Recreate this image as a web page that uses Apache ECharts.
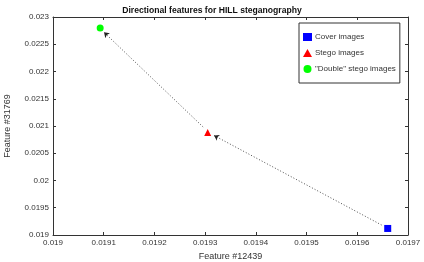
<!DOCTYPE html>
<html>
<head>
<meta charset="utf-8">
<script src="https://cdn.jsdelivr.net/npm/echarts@6/dist/echarts.min.js"></script>
<style>
  html, body { margin: 0; padding: 0; background: #fff; }
  #chart { width: 424px; height: 262px; }
</style>
</head>
<body>
<div id="chart"></div>
<script>
// points
var coverPoint = [0.01966, 0.01912]
var stegoPoint = [0.019305, 0.02088]
var doublePoint = [0.019093, 0.0228]
// dotted arrows: [from, to]
var arrowCover = [[0.019648, 0.019183], [0.0193175, 0.020826]]
var arrowStego = [[0.019296, 0.020982], [0.0191006, 0.022719]]

var xMin = 0.019, xMax = 0.0197, xStep = 0.0001
var yMin = 0.019, yMax = 0.023, yStep = 0.0005

var font = 'Liberation Sans'
var axisColor = '#333'

function fmt(v) {
  return String(parseFloat(v.toFixed(5)))
}

var echart = echarts.init(document.getElementById('chart'))

function xAx(pos, labels) {
  return {
    type: 'value', position: pos, min: xMin, max: xMax, interval: xStep,
    name: labels ? 'Feature #12439' : '',
    nameLocation: 'middle', nameGap: 16,
    nameTextStyle: { color: '#333', fontSize: 9, fontFamily: font },
    axisLine: { show: true, onZero: false, lineStyle: { color: axisColor, width: 1 } },
    axisTick: { show: true, inside: true, length: 3, lineStyle: { color: axisColor } },
    axisLabel: { show: labels, color: '#333', fontSize: 8, fontFamily: font, margin: 4, formatter: fmt },
    splitLine: { show: false }
  }
}
function yAx(pos, labels) {
  return {
    type: 'value', position: pos, min: yMin, max: yMax, interval: yStep,
    name: labels ? 'Feature #31769' : '',
    nameLocation: 'middle', nameGap: 41, nameRotate: 90,
    nameTextStyle: { color: '#333', fontSize: 9, fontFamily: font },
    axisLine: { show: true, onZero: false, lineStyle: { color: axisColor, width: 1 } },
    axisTick: { show: true, inside: true, length: 3, lineStyle: { color: axisColor } },
    axisLabel: { show: labels, color: '#333', fontSize: 8, fontFamily: font, margin: 4, formatter: fmt },
    splitLine: { show: false }
  }
}

var option = {
  animation: false,
  title: {
    text: 'Directional features for HILL steganography',
    left: 'center', top: 1,
    textStyle: { fontSize: 8.6, fontWeight: 'bold', color: '#111', fontFamily: font }
  },
  grid: { left: 53, right: 16, top: 17, bottom: 27, containLabel: false, outerBoundsMode: 'none' },
  legend: {
    orient: 'vertical',
    left: 299, top: 23,
    padding: [10, 4, 10, 4],
    itemGap: 8,
    itemWidth: 9, itemHeight: 8,
    borderColor: '#333', borderWidth: 1,
    backgroundColor: '#fff',
    textStyle: { fontSize: 8, color: '#333', fontFamily: font, padding: [0, 0, 0, -2] },
    data: [
      { name: 'Cover images', icon: 'rect' },
      { name: 'Stego images', icon: 'triangle' },
      { name: '"Double" stego images', icon: 'circle' }
    ]
  },
  xAxis: [xAx('bottom', true), xAx('top', false)],
  yAxis: [yAx('left', true), yAx('right', false)],
  series: [
    {
      type: 'lines', coordinateSystem: 'cartesian2d', silent: true,
      symbol: ['none', 'arrow'], symbolSize: 5,
      lineStyle: { color: '#222', width: 0.8, type: [1, 2], opacity: 1 },
      data: [{ coords: arrowCover }, { coords: arrowStego }]
    },
    {
      name: 'Cover images', type: 'scatter', symbol: 'rect', symbolSize: 7,
      itemStyle: { color: '#0000ff', opacity: 1 }, data: [coverPoint]
    },
    {
      name: 'Stego images', type: 'scatter', symbol: 'triangle', symbolSize: 7,
      itemStyle: { color: '#ff0000', opacity: 1 }, data: [stegoPoint]
    },
    {
      name: '"Double" stego images', type: 'scatter', symbol: 'circle', symbolSize: 7,
      itemStyle: { color: '#00ff00', opacity: 1 }, data: [doublePoint]
    }
  ]
}
echart.setOption(option)
</script>
</body>
</html>
